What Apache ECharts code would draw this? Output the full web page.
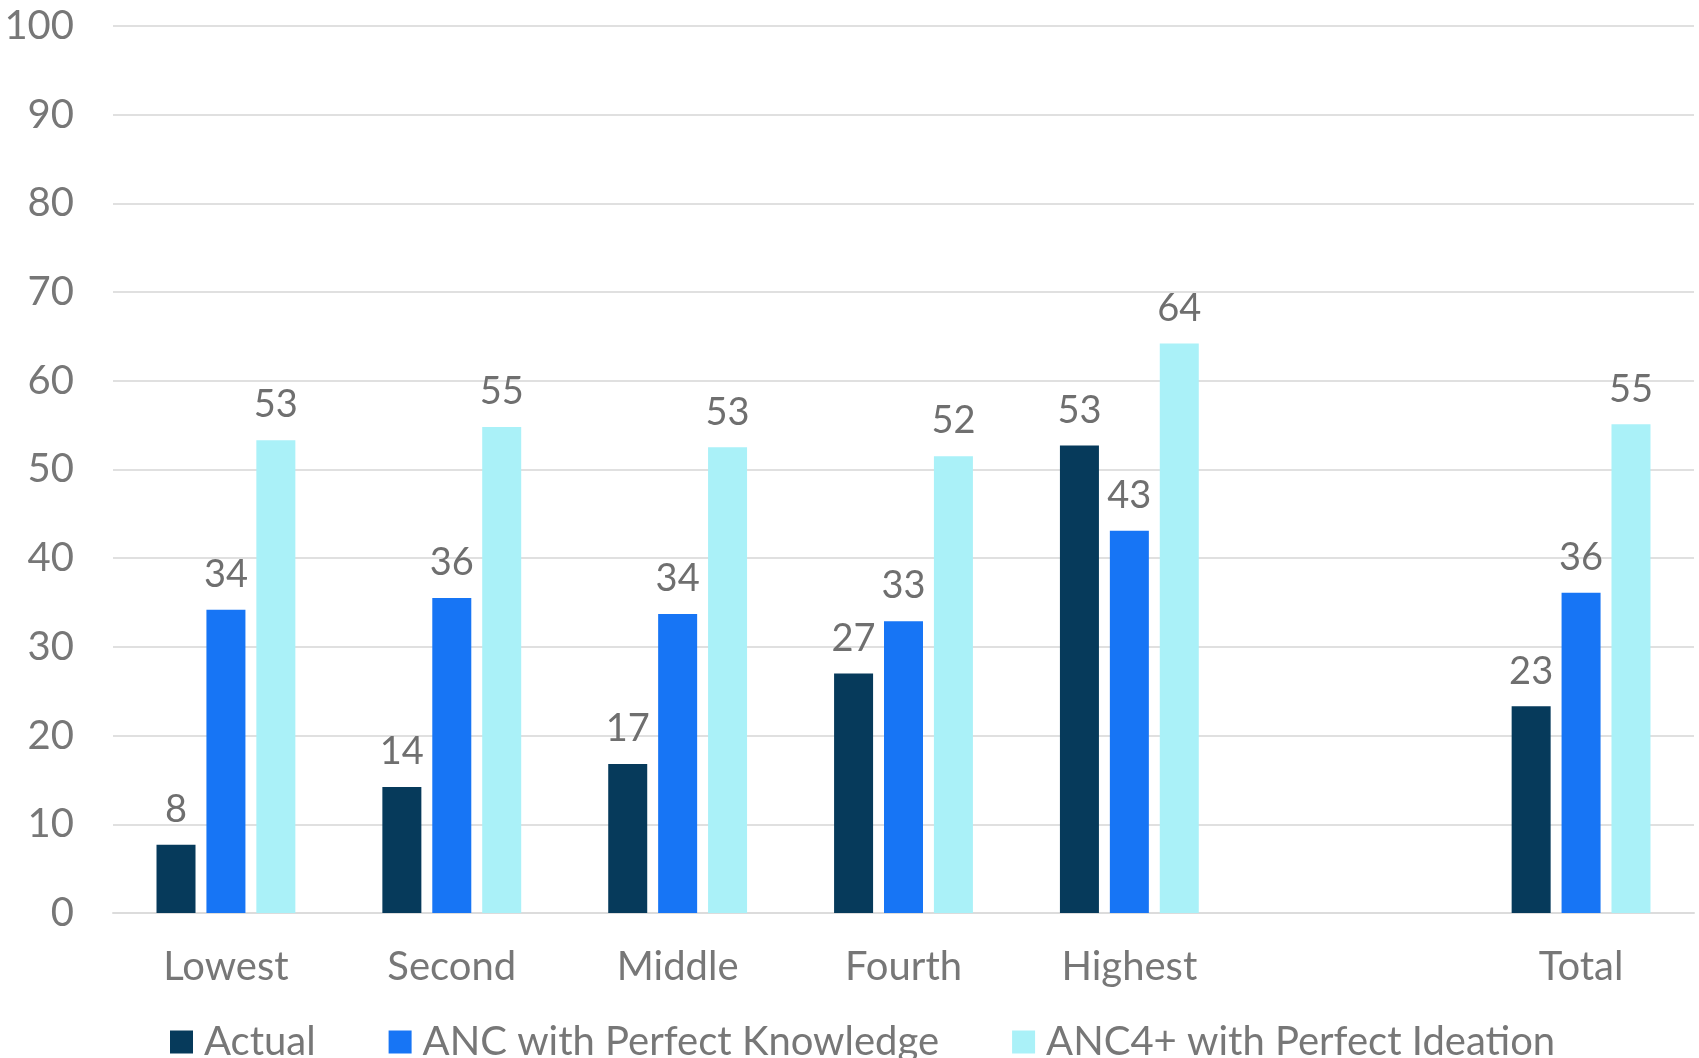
<!DOCTYPE html>
<html>
<head>
<meta charset="utf-8">
<script src="https://cdn.jsdelivr.net/npm/echarts@6/dist/echarts.min.js"></script>
<style>
  html, body { margin: 0; padding: 0; background: #fff; }
  #main { width: 1699px; height: 1058px; }
</style>
</head>
<body>
<div id="main"></div>
<script>
// categories (the blank one is the gap before Total)
const categories = ['Lowest', 'Second', 'Middle', 'Fourth', 'Highest', '', 'Total'];
const seriesNames = ['Actual', 'ANC with Perfect Knowledge', 'ANC4+ with Perfect Ideation'];
const actual = [7.7, 14.2, 16.8, 27.0, 52.7, null, 23.3];
const ancKnowledge = [34.2, 35.5, 33.7, 32.9, 43.1, null, 36.1];
const anc4Ideation = [53.3, 54.8, 52.5, 51.5, 64.2, null, 55.1];
const yTicks = [0, 10, 20, 30, 40, 50, 60, 70, 80, 90, 100];

const colors = ['#063a5b', '#1775f5', '#aaf1f8'];
const font = 'Lato, "Open Sans", sans-serif';
const textGray = '#777777';

let myChart = echarts.init(document.getElementById('main'));

function barSeries(name, data, color) {
	return {
		name: name,
		type: 'bar',
		data: data,
		barWidth: 39,
		barGap: '28%',
		itemStyle: { color: color },
		label: {
			show: true,
			position: 'top',
			distance: 16,
			color: '#6f6f6f',
			fontFamily: font,
			fontSize: 38,
			formatter: p => (p.value == null ? '' : Math.round(p.value))
		}
	};
}

let option = {
	animation: false,
	backgroundColor: '#fff',
	grid: { left: 113, right: 5, top: 26, bottom: 145 },
	legend: {
		data: seriesNames,
		left: 165,
		top: 1017,
		itemWidth: 23,
		itemHeight: 23,
		itemGap: 73,
		icon: 'rect',
		textStyle: {
			color: textGray,
			fontFamily: font,
			fontSize: 40,
			padding: [0, 0, 0, 6]
		}
	},
	xAxis: {
		type: 'category',
		data: categories,
		axisLine: { show: true, lineStyle: { color: '#dcdcdc', width: 2 } },
		axisTick: { show: false },
		axisLabel: {
			color: textGray,
			fontFamily: font,
			fontSize: 40,
			margin: 34
		}
	},
	yAxis: {
		type: 'value',
		min: yTicks[0],
		max: yTicks[yTicks.length - 1],
		interval: 10,
		axisLine: { show: false },
		axisTick: { show: false },
		splitLine: { lineStyle: { color: '#e0e0e0', width: 2 } },
		axisLabel: {
			color: textGray,
			fontFamily: font,
			fontSize: 40,
			margin: 39
		}
	},
	series: [
		barSeries(seriesNames[0], actual, colors[0]),
		barSeries(seriesNames[1], ancKnowledge, colors[1]),
		barSeries(seriesNames[2], anc4Ideation, colors[2])
	]
};

myChart.setOption(option);
</script>
</body>
</html>
